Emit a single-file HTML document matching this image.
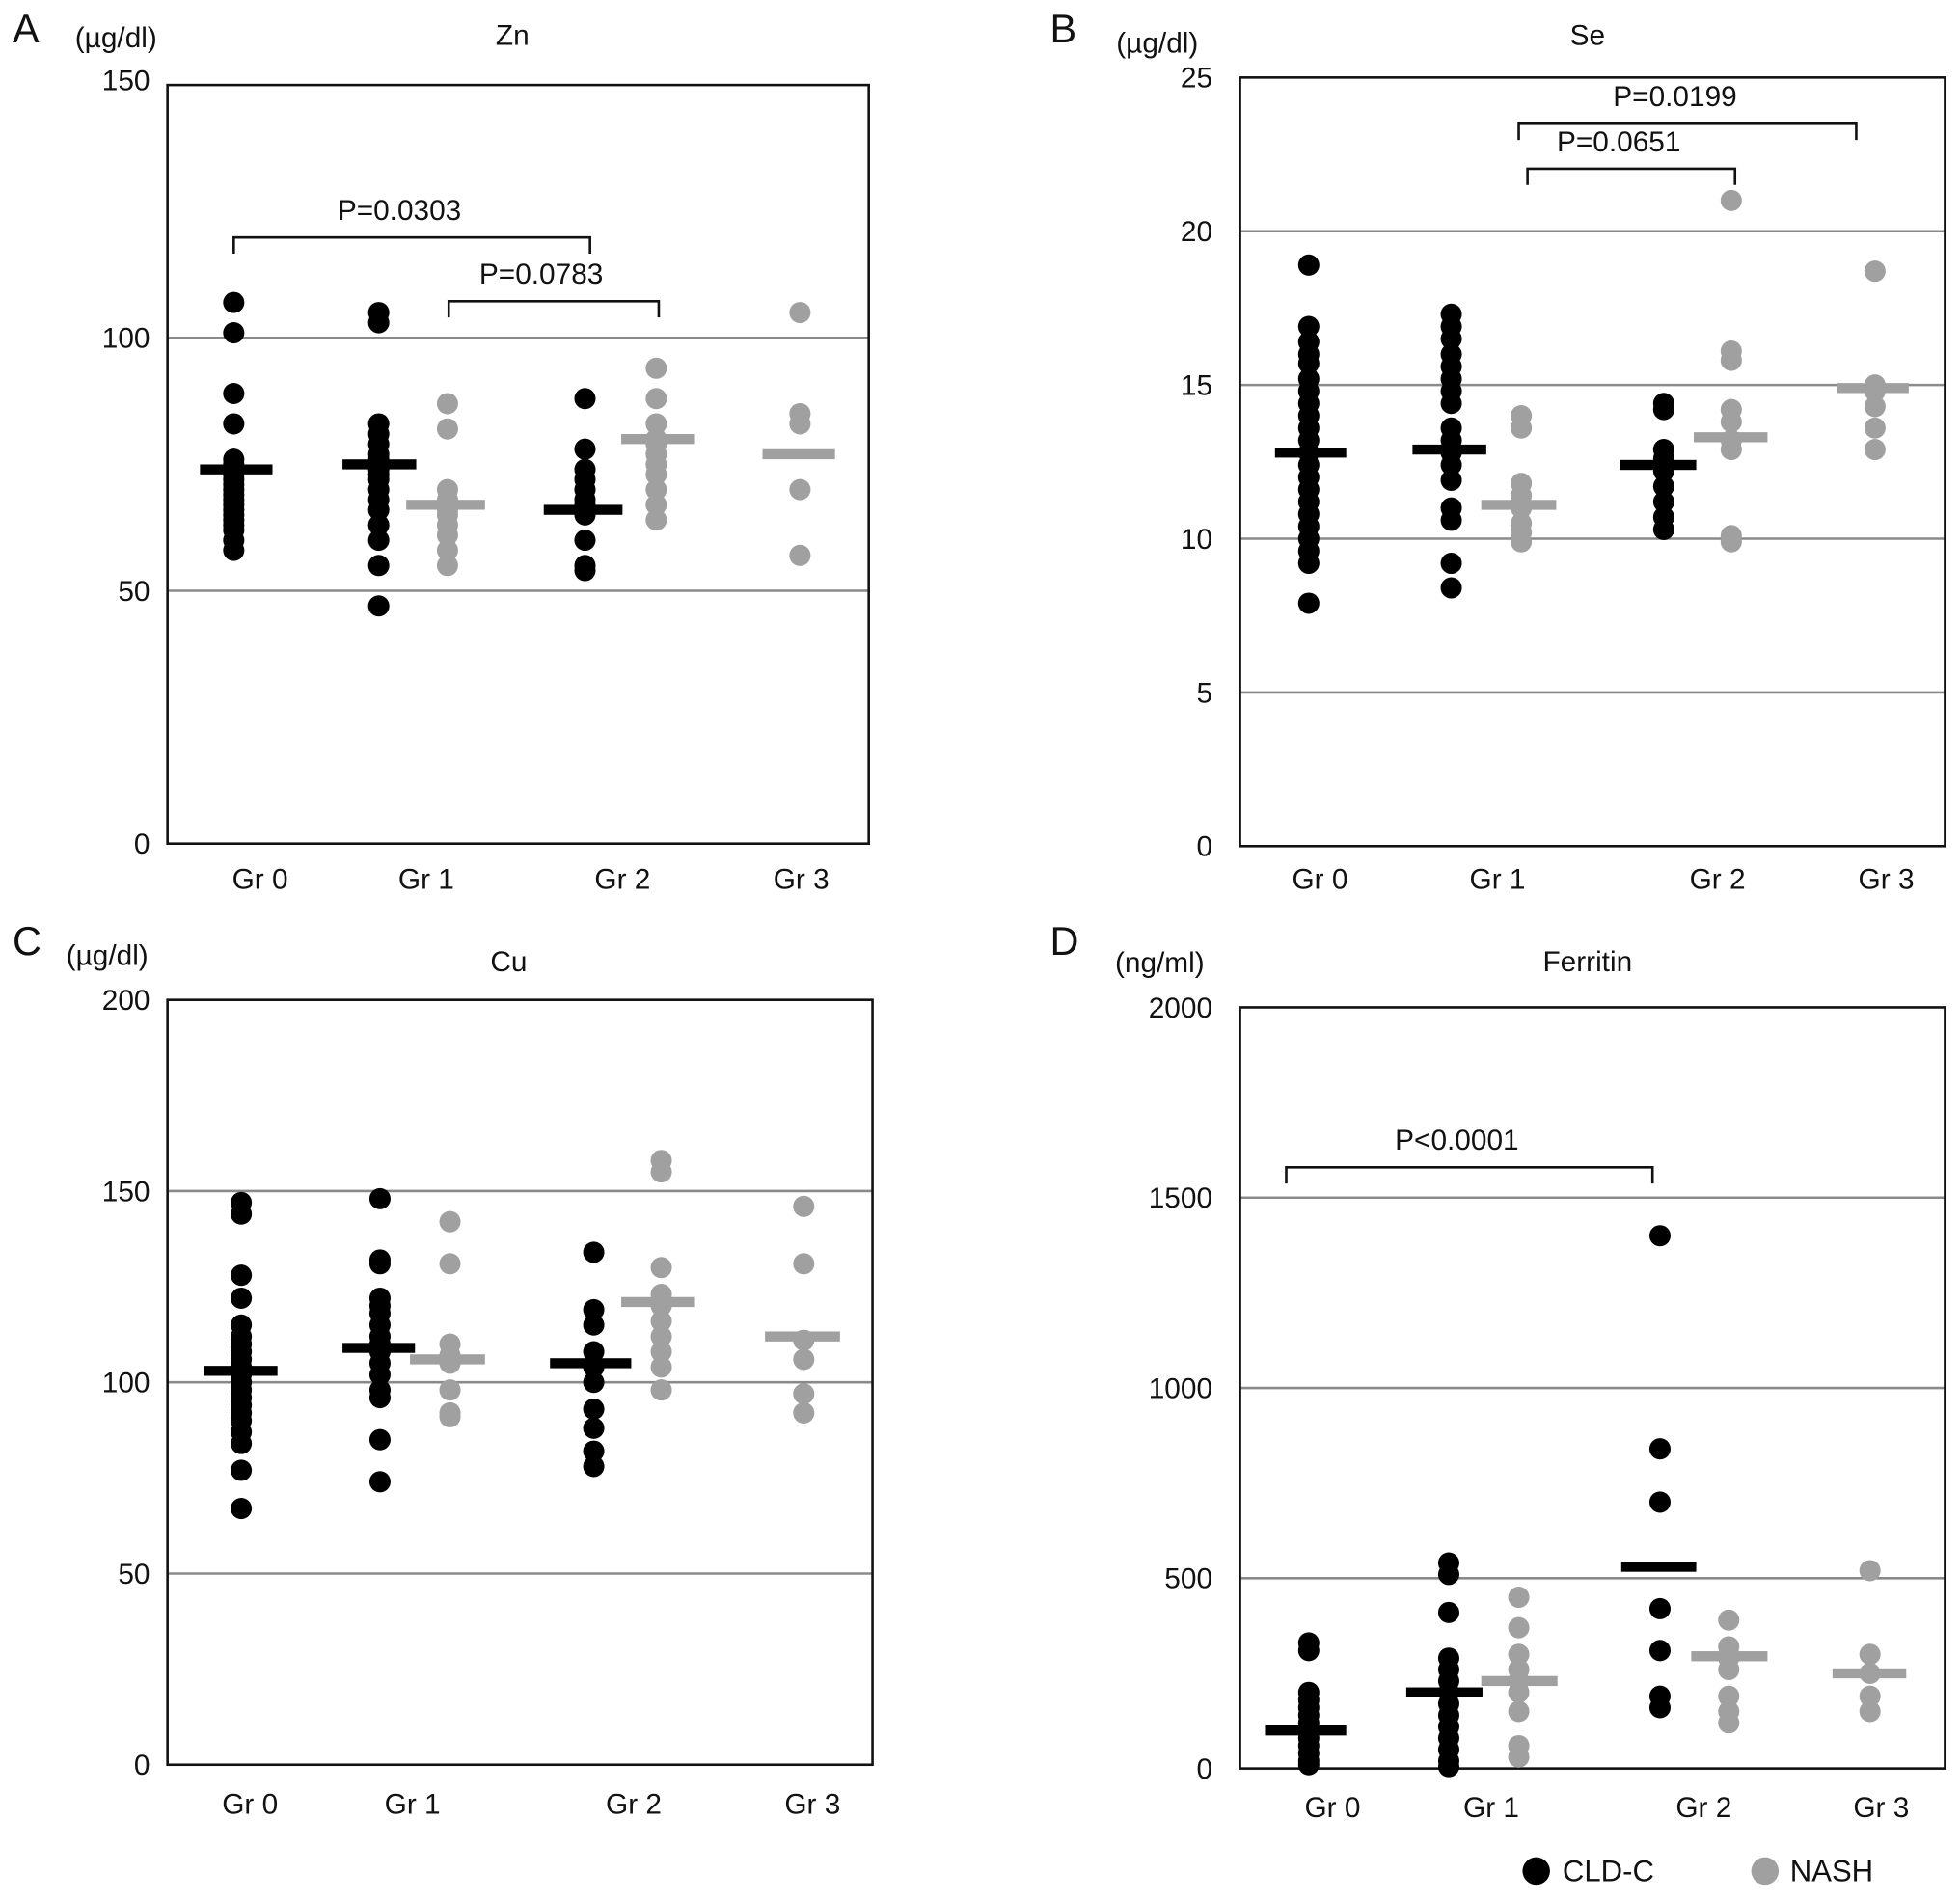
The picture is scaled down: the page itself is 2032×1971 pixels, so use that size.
<!DOCTYPE html>
<html><head><meta charset="utf-8"><style>
html,body{margin:0;padding:0;background:#fff}
svg{display:block}
text{font-family:"Liberation Sans",Arial,sans-serif;fill:#111}
</style></head><body>
<svg id="fig" width="2032" height="1971" viewBox="0 0 1568 1521" preserveAspectRatio="none" xmlns="http://www.w3.org/2000/svg"></svg>
<script>
// ---- data ----
const groups = ["Gr 0","Gr 1","Gr 2","Gr 3"];
// Zn
const znCld = [[107,101,89,83,76,75,74,73,72,71,70,69,68,67,66,65,64,63,62,60,58],[105,103,83,81,79,77,76,75,74,73,72,70,68,66,63,60,55,47],[88,78,74,72,70,68,67,65,60,55,54],null];
const znNash = [null,[87,82,70,68,67,66,65,63,61,58,55],[94,88,83,80,79,77,75,73,70,67,64],[105,85,83,70,57]];
const znCldMean = [74,75,66,null];
const znNashMean = [null,67,80,77];
const znTicks = [0,50,100,150];
// Se
const seCld = [[18.9,16.9,16.4,16,15.7,15.2,14.8,14.4,14,13.6,13.2,12.8,12.4,12,11.6,11.2,10.8,10.4,10,9.6,9.2,7.9],[17.3,16.9,16.5,16,15.6,15.2,14.8,14.4,13.6,13.2,12.8,12.4,11.9,11,10.6,9.2,8.4],[14.4,14.2,12.9,12.6,12.2,11.7,11.2,10.7,10.3],null];
const seNash = [null,[14,13.6,11.8,11.4,11,10.5,10.2,9.9],[21,16.1,15.8,14.2,13.8,13.2,12.9,10.1,9.9],[18.7,15,14.8,14.3,13.6,12.9]];
const seCldMean = [12.8,12.9,12.4,null];
const seNashMean = [null,11.1,13.3,14.9];
const seTicks = [0,5,10,15,20,25];
// Cu
const cuCld = [[147,144,128,122,115,112,110,108,106,104,102,100,98,96,94,92,90,87,84,77,67],[148,132,131,122,120,118,115,112,110,108,105,102,98,96,85,74],[134,119,115,108,104,100,93,88,82,78],null];
const cuNash = [null,[142,131,110,107,105,98,92,91],[158,155,130,123,120,116,112,108,104,98],[146,131,111,106,97,92]];
const cuCldMean = [103,109,105,null];
const cuNashMean = [null,106,121,112];
const cuTicks = [0,50,100,150,200];
// Ferritin
const feCld = [[330,310,200,180,160,140,120,100,80,60,40,20,10],[540,510,410,290,260,230,200,170,140,110,80,50,20,5],[1400,840,700,420,310,190,160],null];
const feNash = [null,[450,370,300,260,230,200,150,60,30],[390,320,290,260,190,150,120],[520,300,250,190,150]];
const feCldMean = [100,200,530,null];
const feNashMean = [null,230,295,250];
const feTicks = [0,500,1000,1500,2000];

const NS="http://www.w3.org/2000/svg";
const svg=document.getElementById('fig');
function mk(tag,attrs,parent){const e=document.createElementNS(NS,tag);for(const k in attrs)e.setAttribute(k,attrs[k]);(parent||svg).appendChild(e);return e;}
function txt(s,x,y,size,anchor,parent){const t=mk('text',{x:x,y:y,'font-size':size,'text-anchor':anchor||'middle'},parent);t.textContent=s;return t;}

const panels=[
 {id:'zn',letter:'A',unit:'(µg/dl)',title:'Zn',box:[134,68,695,675],max:150,ticks:znTicks,grid:[50,100],labelX:[208,341,498,641],labelY:703,
  cldX:[187,303,468,null],nashX:[null,358,525,640],cldBar:[[160,218],[274,333],[435,498],null],nashBar:[null,[325,388],[497,556],[610,668]],
  cld:znCld,nash:znNash,cm:znCldMean,nm:znNashMean,letterPos:[10,34],unitPos:[60,38],titlePos:[410,36],tickX:120,tickShift:-4,
  brackets:[{x1:187,x2:472,y:190,label:'P=0.0303'},{x1:359,x2:527,y:241,label:'P=0.0783'}]},
 {id:'se',letter:'B',unit:'(µg/dl)',title:'Se',box:[992,62,1556,677],max:25,ticks:seTicks,grid:[5,10,15,20],labelX:[1056,1198,1374,1509],labelY:703,
  cldX:[1047,1161,1331,null],nashX:[null,1217,1385,1500],cldBar:[[1020,1077],[1130,1189],[1296,1357],null],nashBar:[null,[1185,1245],[1355,1414],[1470,1527]],
  cld:seCld,nash:seNash,cm:seCldMean,nm:seNashMean,letterPos:[840,34],unitPos:[893,42],titlePos:[1270,36],tickX:970,tickShift:0,
  brackets:[{x1:1215,x2:1485,y:99,label:'P=0.0199'},{x1:1222,x2:1388,y:135,label:'P=0.0651'}]},
 {id:'cu',letter:'C',unit:'(µg/dl)',title:'Cu',box:[134,800,698,1412],max:200,ticks:cuTicks,grid:[50,100,150],labelX:[200,330,507,650],labelY:1443,
  cldX:[193,304,475,null],nashX:[null,360,529,643],cldBar:[[163,222],[274,332],[440,505],null],nashBar:[null,[328,388],[497,556],[612,672]],
  cld:cuCld,nash:cuNash,cm:cuCldMean,nm:cuNashMean,letterPos:[10,764],unitPos:[53,772],titlePos:[407,777],tickX:120,tickShift:0,brackets:[]},
 {id:'ferritin',letter:'D',unit:'(ng/ml)',title:'Ferritin',box:[992,806,1556,1415],max:2000,ticks:feTicks,grid:[500,1000,1500],labelX:[1066,1193,1363,1505],labelY:1446,
  cldX:[1047,1159,1328,null],nashX:[null,1215,1383,1496],cldBar:[[1012,1077],[1125,1186],[1297,1357],null],nashBar:[null,[1185,1246],[1353,1414],[1466,1525]],
  cld:feCld,nash:feNash,cm:feCldMean,nm:feNashMean,letterPos:[840,764],unitPos:[892,778],titlePos:[1270,777],tickX:970,tickShift:0,
  brackets:[{x1:1029,x2:1322,y:934,label:'P<0.0001'}]}
];

panels.forEach(p=>{
 const g=mk('g',{});
 
 
 const [x0,y0,x1,y1]=p.box;
 const yScale=v=>y1-(v/p.max)*(y1-y0);
 const l=txt(p.letter,p.letterPos[0],p.letterPos[1],32,'start',g);
 
 
 const u=txt(p.unit,p.unitPos[0],p.unitPos[1],23,'start',g);
 
 
 const t=txt(p.title,p.titlePos[0],p.titlePos[1],23,'middle',g);
 
 
 p.grid.forEach(v=>{
  const gl=mk('line',{x1:x0,x2:x1,y1:yScale(v),y2:yScale(v),stroke:'#8a8a8a','stroke-width':2},g);
  
  
 });
 const r=mk('rect',{x:x0,y:y0,width:x1-x0,height:y1-y0,fill:'none',stroke:'#111','stroke-width':2},g);
 
 
 p.ticks.forEach(v=>{
  const tl=txt(String(v),p.tickX,yScale(v)+8+(v===p.max?p.tickShift:0),23,'end',g);
  
  
 });
 groups.forEach((gname,i)=>{
  const xl=txt(gname,p.labelX[i],p.labelY+8,23,'middle',g);
  
  
 });
 p.brackets.forEach(b=>{
  const pl=mk('polyline',{points:`${b.x1},${b.y+13} ${b.x1},${b.y} ${b.x2},${b.y} ${b.x2},${b.y+13}`,fill:'none',stroke:'#111','stroke-width':2},g);
  
  
  const bt=txt(b.label,(b.x1+b.x2)/2-10,b.y-14,23,'middle',g);
  
  
 });
 const series=[{vals:p.cld,xs:p.cldX,bars:p.cldBar,means:p.cm,col:'#000',name:'cld-c'},{vals:p.nash,xs:p.nashX,bars:p.nashBar,means:p.nm,col:'#a0a0a0',name:'nash'}];
 series.forEach(s=>{
  s.vals.forEach((arr,i)=>{
   if(!arr)return;
   arr.forEach(v=>{
    const c=mk('circle',{cx:s.xs[i],cy:yScale(v),r:8.5,fill:s.col},g);
    
    
   });
  });
  s.means.forEach((m,i)=>{
   if(m==null)return;
   const b=s.bars[i];
   const ml=mk('rect',{x:b[0],y:yScale(m)-4,width:b[1]-b[0],height:8,fill:s.col},g);
   
   
  });
 });
});

const lg=mk('g',{});


const l1=mk('circle',{cx:1229,cy:1497,r:11,fill:'#000'},lg);


const lt1=txt('CLD-C',1250,1505,24,'start',lg);


const l2=mk('circle',{cx:1412,cy:1497,r:11,fill:'#a0a0a0'},lg);


const lt2=txt('NASH',1432,1505,24,'start',lg);


</script>
</body></html>
